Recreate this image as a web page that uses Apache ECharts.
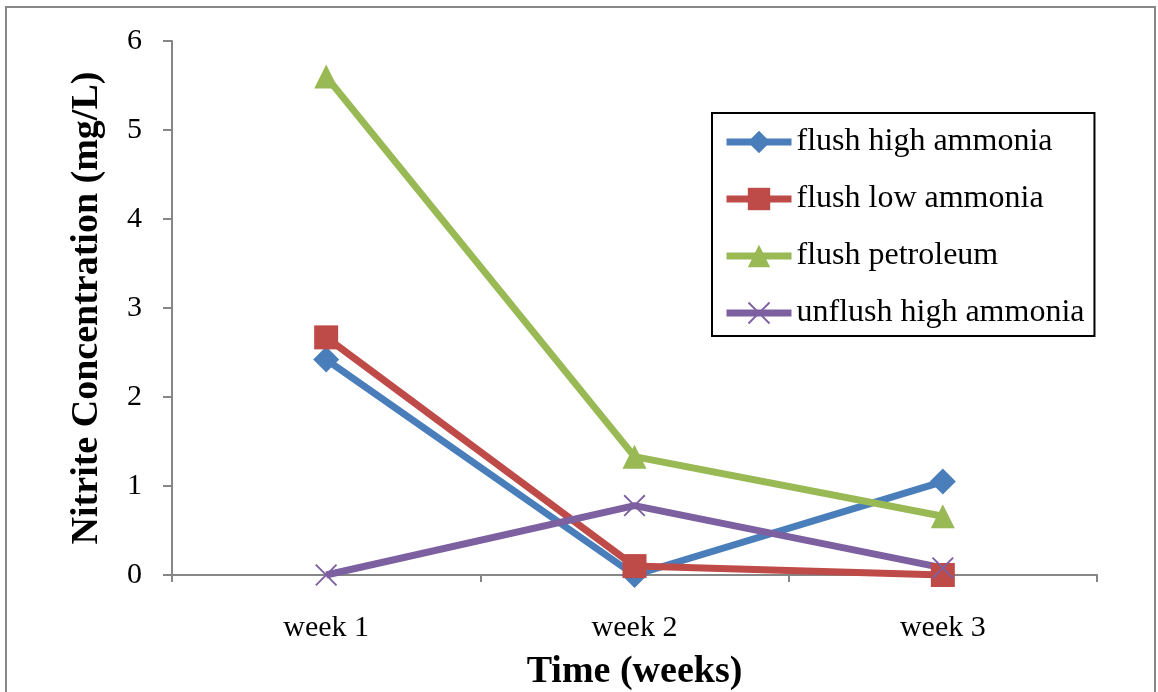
<!DOCTYPE html>
<html><head><meta charset="utf-8">
<script src="https://cdn.jsdelivr.net/npm/echarts@6/dist/echarts.min.js"></script>
<style>html,body{margin:0;padding:0;background:#fff}#c{width:1158px;height:692px}</style>
</head><body><div id="c"></div>
<script>
const categories = ['week 1', 'week 2', 'week 3'];
const flushHighAmmonia = [2.42, 0.0, 1.05];
const flushLowAmmonia = [2.67, 0.10, 0.0];
const flushPetroleum = [5.60, 1.33, 0.66];
const unflushHighAmmonia = [0.0, 0.78, 0.08];
const seriesNames = ['flush high ammonia', 'flush low ammonia', 'flush petroleum', 'unflush high ammonia'];
const yTicks = [0, 1, 2, 3, 4, 5, 6];

const FONT = '"Liberation Serif", "Times New Roman", serif';
const crossPath = 'path://M0,6 L6,0 L50,44 L94,0 L100,6 L56,50 L100,94 L94,100 L50,56 L6,100 L0,94 L44,50 Z';

function mk(name, data, color, symbol, size) {
  return {
    name, type: 'line', data, symbol, symbolSize: size,
    lineStyle: { color, width: 7 },
    itemStyle: { color },
    emphasis: { disabled: true },
    animation: false, z: 3
  };
}

const chart = echarts.init(document.getElementById('c'), null, { renderer: 'canvas' });
chart.setOption({
  backgroundColor: '#fff',
  animation: false,
  grid: { left: 172, right: 61, top: 41, bottom: 117, outerBoundsMode: 'none', containLabel: false },
  graphic: [{
    type: 'rect', shape: { x: 6, y: 7, width: 1149, height: 700 },
    style: { fill: 'none', stroke: '#878787', lineWidth: 2 }, silent: true, z: 0
  }],
  legend: {
    orient: 'vertical', left: 712, top: 113,
    padding: [13, 10, 7, 11], itemGap: 25,
    itemWidth: 65, itemHeight: 28,
    borderColor: '#000', borderWidth: 2, backgroundColor: '#fff',
    lineStyle: { width: 7 },
    textStyle: { fontFamily: FONT, fontSize: 32, color: '#000', lineHeight: 30 },
    data: seriesNames
  },
  xAxis: {
    type: 'category', data: categories, boundaryGap: true,
    axisLine: { lineStyle: { color: '#868686', width: 2 } },
    axisTick: { show: true, length: 7, interval: 0, lineStyle: { color: '#868686', width: 2 } },
    axisLabel: { fontFamily: FONT, fontSize: 30, color: '#000', margin: 38 },
    name: 'Time (weeks)', nameLocation: 'middle', nameGap: 78,
    nameTextStyle: { fontFamily: FONT, fontSize: 38, fontWeight: 'bold', color: '#000' }
  },
  yAxis: {
    type: 'value', min: yTicks[0], max: yTicks[yTicks.length - 1], interval: 1,
    axisLine: { show: true, lineStyle: { color: '#868686', width: 2 } },
    axisTick: { show: true, length: 9, lineStyle: { color: '#868686', width: 2 } },
    splitLine: { show: false },
    axisLabel: { fontFamily: FONT, fontSize: 30, color: '#000', margin: 30 },
    name: 'Nitrite Concentration (mg/L)', nameLocation: 'middle', nameGap: 66,
    nameTextStyle: { fontFamily: FONT, fontSize: 38, fontWeight: 'bold', color: '#000' }
  },
  series: [
    mk(seriesNames[0], flushHighAmmonia, '#4A7EBB', 'diamond', 26),
    mk(seriesNames[1], flushLowAmmonia, '#BE4B48', 'rect', 24),
    mk(seriesNames[2], flushPetroleum, '#98B954', 'triangle', 24),
    mk(seriesNames[3], unflushHighAmmonia, '#7D60A0', crossPath, 22)
  ]
});
</script></body></html>
